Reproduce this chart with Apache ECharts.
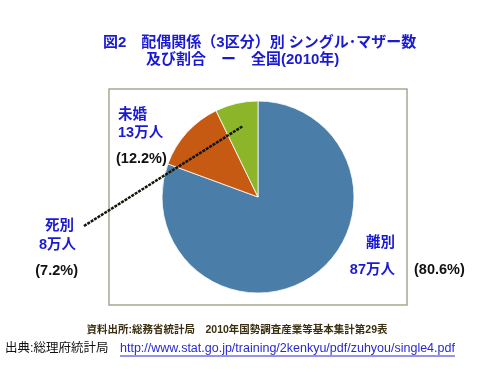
<!DOCTYPE html>
<html><head><meta charset="utf-8">
<script src="https://cdn.jsdelivr.net/npm/echarts@6/dist/echarts.min.js"></script>
<style>html,body{margin:0;padding:0;background:#fff}#c{width:480px;height:369px}</style>
</head><body><div id="c"></div>
<script>
var categories = ['離別', '未婚', '死別'];
var counts = [87, 13, 8];           // 万人
var percents = [80.6, 12.2, 7.2];   // %
var colors = ['#4a7ea8', '#c75a12', '#8db52a'];

var F = "'Liberation Sans','Noto Sans CJK JP',sans-serif";
var blue = '#1a1ad2';
var chart = echarts.init(document.getElementById('c'), null, {renderer:'canvas'});

function lbl(x, y, text, color, align, size) {
  return {type:'text', x:x, y:y, style:{text:text, fill:color, font:'bold '+(size||14.5)+'px '+F, align:align||'left', verticalAlign:'middle'}};
}

var g = [
  {type:'rect', shape:{x:109, y:89, width:298, height:216}, style:{fill:'none', stroke:'#a9a78e', lineWidth:1.5}, z:0},
  lbl(103, 43, '図2　配偶関係（3区分）別 シングル･マザー数', '#1a1ad2', 'left', 15),
  lbl(146, 60, '及び割合　ー　全国(2010年)', '#1a1ad2', 'left', 15),
  // 未婚
  lbl(118, 115, categories[1], blue),
  lbl(118, 133, counts[1] + '万人', blue),
  lbl(116, 159, '(' + percents[1].toFixed(1) + '%)', '#111', 'left'),
  // 死別
  lbl(74, 226, categories[2], blue, 'right'),
  lbl(76, 245, counts[2] + '万人', blue, 'right'),
  lbl(78, 271, '(' + percents[2].toFixed(1) + '%)', '#111', 'right'),
  // 離別
  lbl(395, 243, categories[0], blue, 'right'),
  lbl(395, 270, counts[0] + '万人', blue, 'right'),
  lbl(414, 270, '(' + percents[0].toFixed(1) + '%)', '#111', 'left'),
  // leader line
  {type:'line', shape:{x1:84, y1:226, x2:243, y2:126}, style:{stroke:'#141408', lineWidth:2.5, lineDash:[3,1]}, z:10},
  // source
  {type:'text', x:237, y:330, style:{text:'資料出所:総務省統計局　2010年国勢調査産業等基本集計第29表', fill:'#3a2f10', font:'bold 10.5px '+F, align:'center', verticalAlign:'middle'}},
  {type:'text', x:5, y:349, style:{text:'出典:総理府統計局', fill:'#111', font:'12.5px '+F, align:'left', verticalAlign:'middle'}},
  {type:'text', x:120, y:349, style:{text:'http://www.stat.go.jp/training/2kenkyu/pdf/zuhyou/single4.pdf', fill:'#2a2ad0', font:'12.5px '+F, align:'left', verticalAlign:'middle'}},
  {type:'line', shape:{x1:120, y1:356, x2:455, y2:356}, style:{stroke:'#2a2ad0', lineWidth:1}}
];

chart.setOption({
  animation:false,
  color: colors,
  graphic: g,
  series:[{
    type:'pie',
    center:[258,197],
    radius:96,
    startAngle:90,
    clockwise:true,
    label:{show:false},
    labelLine:{show:false},
    itemStyle:{borderColor:'#fff', borderWidth:0.8},
    data: categories.map(function(n,i){return {name:n, value:percents[i]};})
  }]
});
</script></body></html>
